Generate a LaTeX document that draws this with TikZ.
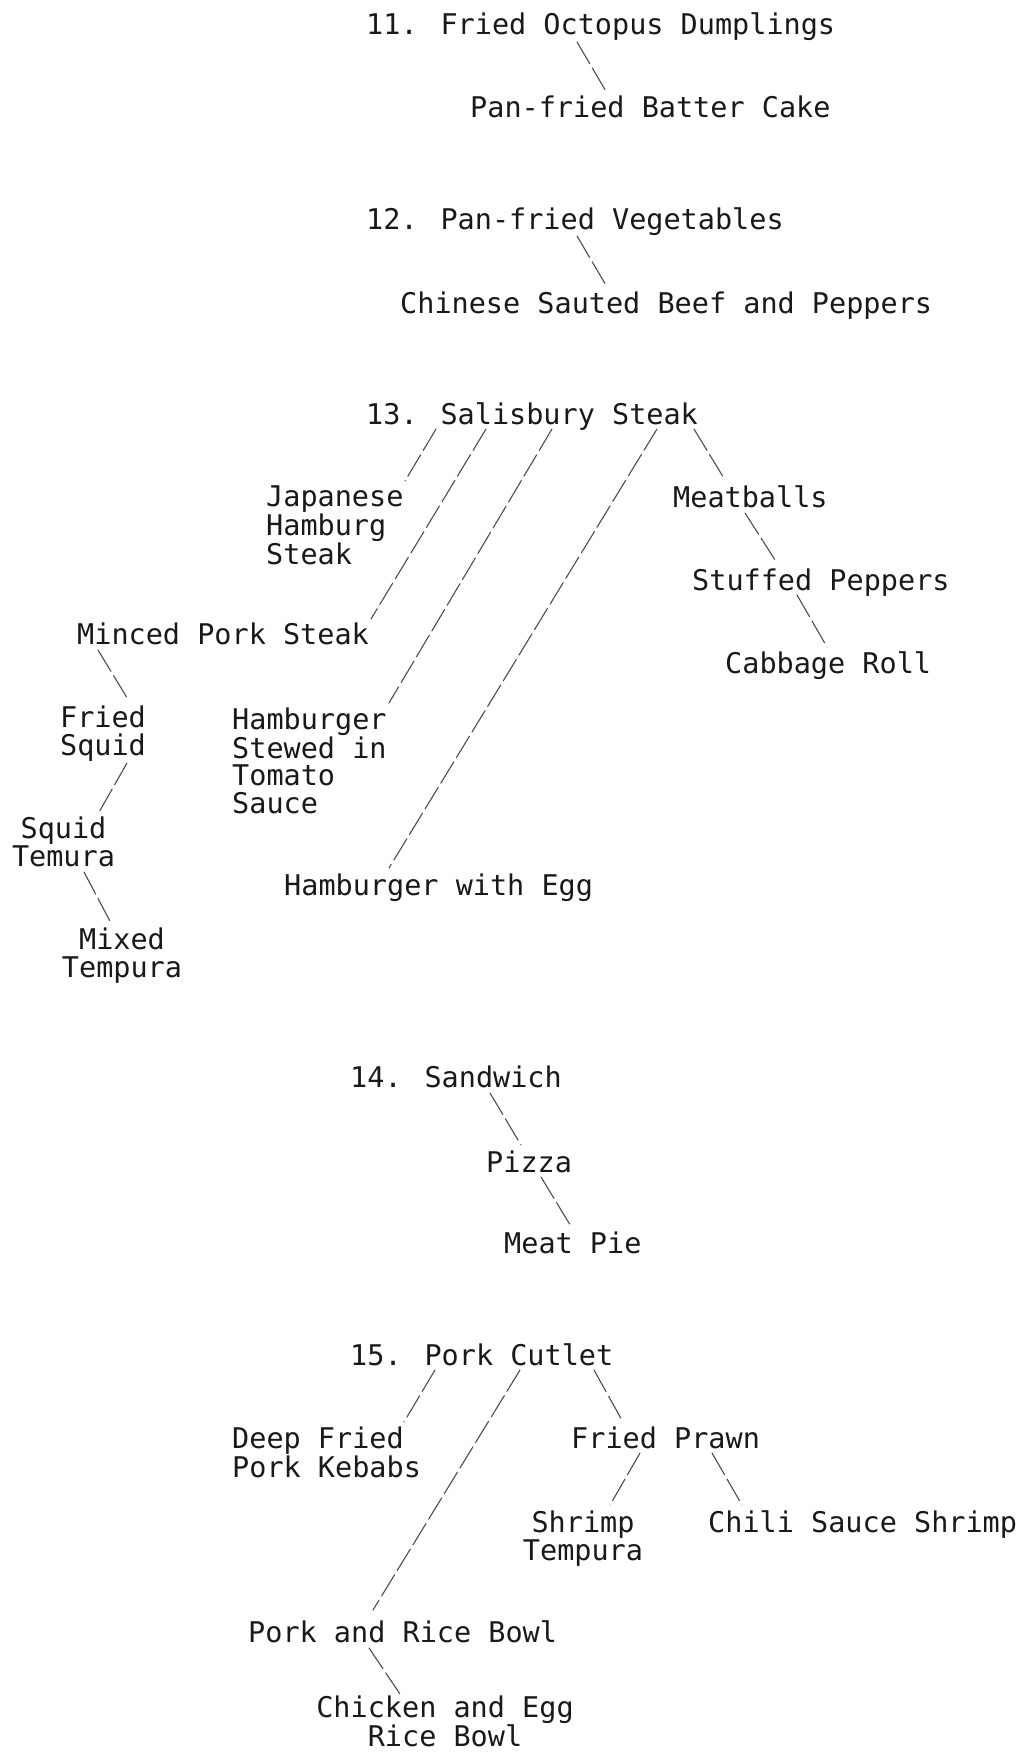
\documentclass[tikz,border=0pt]{standalone}
\usepackage{fontspec}
\usepackage{tikz}
\newfontfamily\dishfont{DejaVu Sans Mono}

\begin{document}
\begin{tikzpicture}[
    x=1pt, y=-1pt,
    line cap=round,
    line join=round,
    dish/.style={inner sep=0pt, anchor=base west, text=black!90,
        font=\dishfont\fontsize{28.5}{27.3}\selectfont},
    dishl/.style={dish, anchor=north west, align=left},
    dishc/.style={dish, anchor=north, align=center},
    link/.style={draw=black!70, line width=1.1pt, dash pattern=on 25pt off 5pt}
]
\useasboundingbox (0,0) rectangle (1021,1752);

% Gruppo 11
\node[dish] (s11) at (366,35) {11. Fried Octopus Dumplings};
\node[dish] (batter) at (470,118) {Pan-fried Batter Cake};
\draw[link] ([shift={(211,7)}]s11.base west) -- ([shift={(137,-25)}]batter.base west);

% Gruppo 12
\node[dish] (s12) at (366,230) {12. Pan-fried Vegetables};
\node[dish] (beef) at (400,313) {Chinese Sauted Beef and Peppers};
\draw[link] ([shift={(211,6)}]s12.base west) -- ([shift={(207,-26)}]beef.base west);

% Gruppo 13
\node[dish] (s13) at (366,424) {13. Salisbury Steak};
\node[dishl] (japanese) at (266,486) {Japanese\\Hamburg\\Steak};
\node[dish] (minced) at (77,644) {Minced Pork Steak};
\node[dishc] (squid) at (103,706) {Fried\\Squid};
\node[dishc] (temura) at (63.5,817) {Squid\\Temura};
\node[dishc] (mixed) at (122,928) {Mixed\\Tempura};
\node[dishl] (stewed) at (232,708) {Hamburger\\Stewed in\\Tomato\\Sauce};
\node[dish] (egg) at (284,895) {Hamburger with Egg};
\node[dish] (meatballs) at (673,507) {Meatballs};
\node[dish] (peppers) at (692,590) {Stuffed Peppers};
\node[dish] (cabbage) at (725,673) {Cabbage Roll};

\draw[link] ([shift={(70,5)}]s13.base west) -- ([shift={(139,-5)}]japanese.north west);
\draw[link] ([shift={(120,5)}]s13.base west) -- ([shift={(294,-25)}]minced.base west);
\draw[link] ([shift={(186,5)}]s13.base west) -- ([shift={(157,-5)}]stewed.north west);
\draw[link] ([shift={(291,5)}]s13.base west) -- ([shift={(105,-27)}]egg.base west);
\draw[link] ([shift={(328,5)}]s13.base west) -- ([shift={(52,-27)}]meatballs.base west);
\draw[link] ([shift={(72,6)}]meatballs.base west) -- ([shift={(85,-27)}]peppers.base west);
\draw[link] ([shift={(105,5)}]peppers.base west) -- ([shift={(102,-26)}]cabbage.base west);
\draw[link] ([shift={(21,6)}]minced.base west) -- ([shift={(26,-5)}]squid.north);
\draw[link] ([shift={(24,57)}]squid.north) -- ([shift={(34.5,-3)}]temura.north);
\draw[link] ([shift={(20.5,55)}]temura.north) -- ([shift={(-11,-5)}]mixed.north);

% Gruppo 14
\node[dish] (s14) at (350,1087) {14. Sandwich};
\node[dish] (pizza) at (486,1172) {Pizza};
\node[dish] (meatpie) at (504,1253) {Meat Pie};
\draw[link] ([shift={(140,6)}]s14.base west) -- ([shift={(35,-27)}]pizza.base west);
\draw[link] ([shift={(55,5)}]pizza.base west) -- ([shift={(68,-25)}]meatpie.base west);

% Gruppo 15
\node[dish] (s15) at (350,1365) {15. Pork Cutlet};
\node[dishl] (kebabs) at (232,1427) {Deep Fried\\Pork Kebabs};
\node[dish] (prawn) at (571,1448) {Fried Prawn};
\node[dishc] (shrimp) at (583,1511) {Shrimp\\Tempura};
\node[dish] (chili) at (708,1532) {Chili Sauce Shrimp};
\node[dish] (ricebowl) at (248,1642) {Pork and Rice Bowl};
\node[dishc] (chicken) at (445,1696) {Chicken and Egg\\Rice Bowl};

\draw[link] ([shift={(85,5)}]s15.base west) -- ([shift={(172,-5)}]kebabs.north west);
\draw[link] ([shift={(170,5)}]s15.base west) -- ([shift={(125,-32)}]ricebowl.base west);
\draw[link] ([shift={(244,5)}]s15.base west) -- ([shift={(52,-26)}]prawn.base west);
\draw[link] ([shift={(69,5)}]prawn.base west) -- ([shift={(27,-6)}]shrimp.north);
\draw[link] ([shift={(141,5)}]prawn.base west) -- ([shift={(34,-27)}]chili.base west);
\draw[link] ([shift={(121,6)}]ricebowl.base west) -- ([shift={(-45,-2)}]chicken.north);

\end{tikzpicture}
\end{document}
